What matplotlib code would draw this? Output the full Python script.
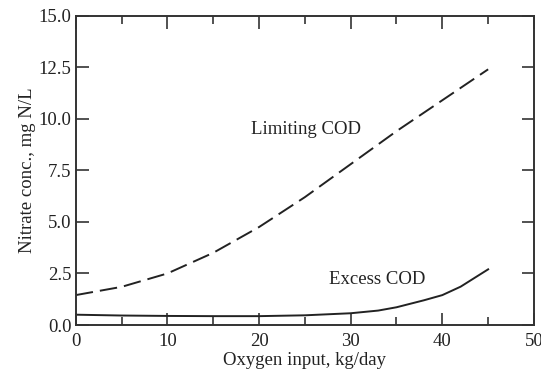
import matplotlib
matplotlib.use("Agg")
import matplotlib.pyplot as plt

plt.rcParams['font.family'] = ['Liberation Serif', 'DejaVu Serif']

# Limiting COD (dashed)
lim_x = [0, 5, 10, 15, 20, 25, 30, 35, 40, 45]
lim_y = [1.45, 1.85, 2.5, 3.5, 4.75, 6.2, 7.8, 9.4, 10.9, 12.4]

# Excess COD (solid)
exc_x = [0, 5, 10, 15, 20, 25, 30, 33, 35, 38, 40, 42, 45]
exc_y = [0.5, 0.46, 0.44, 0.43, 0.43, 0.47, 0.57, 0.7, 0.86, 1.2, 1.45, 1.86, 2.7]

fig = plt.figure(figsize=(5.41, 3.74), dpi=100)
ax = fig.add_axes([0.140, 0.131, 0.847, 0.827])

ax.plot(lim_x, lim_y, color='#222222', lw=1.4, ls=(0, (9, 3.6)))
ax.plot(exc_x, exc_y, color='#222222', lw=1.4)

ax.text(25.1, 9.46, 'Limiting COD', ha='center', va='center', fontsize=13.5, color='#222222')
ax.text(32.9, 2.23, 'Excess COD', ha='center', va='center', fontsize=13.5, color='#222222')

ax.set_xlim(0, 50)
ax.set_ylim(0, 15)
ax.set_xticks([0, 10, 20, 30, 40, 50])
ax.set_xticks([5, 15, 25, 35, 45], minor=True)
ax.set_yticks([0, 2.5, 5, 7.5, 10, 12.5, 15])
ax.set_yticklabels(['0.0', '2.5', '5.0', '7.5', '10.0', '12.5', '15.0'])

ax.tick_params(which='both', direction='in', top=True, right=True, width=1.1,
               labelsize=13.5, colors='#222222')
ax.tick_params(axis='x', pad=6)
ax.tick_params(axis='y', pad=3)
ax.tick_params(which='major', length=9)
ax.tick_params(which='minor', length=6)
for s in ax.spines.values():
    s.set_linewidth(1.4)
    s.set_color('#333333')

ax.set_xlabel('Oxygen input, kg/day', fontsize=13.5, color='#222222', labelpad=1)
ax.set_ylabel('Nitrate conc., mg N/L', fontsize=13.5, color='#222222', labelpad=2)

fig.savefig('out.png', dpi=100)
